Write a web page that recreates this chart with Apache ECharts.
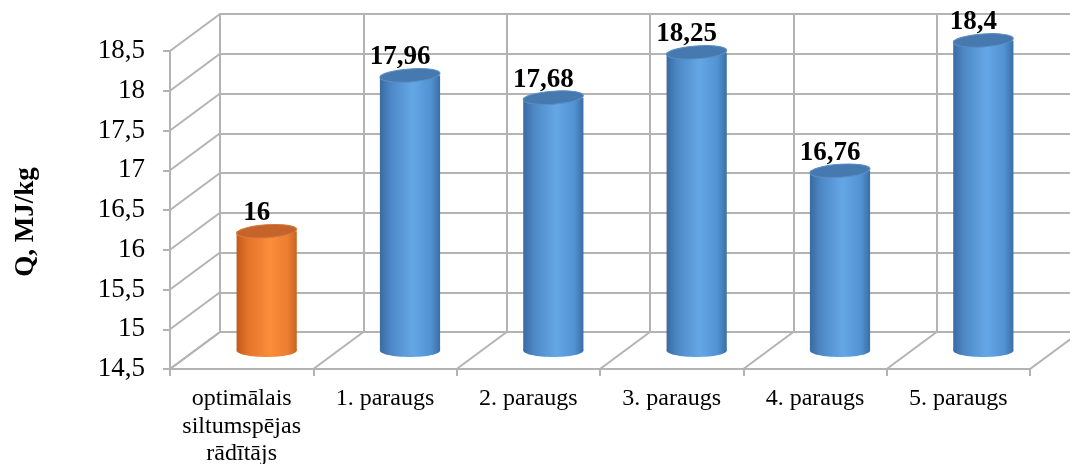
<!DOCTYPE html>
<html>
<head>
<meta charset="utf-8">
<script src="https://cdn.jsdelivr.net/npm/echarts@6/dist/echarts.min.js"></script>
<style>
  html, body { margin: 0; padding: 0; background: #fff; }
  #chart { width: 1070px; height: 464px; }
</style>
</head>
<body>
<div id="chart"></div>
<script>
const categories = ['optimālais\nsiltumspējas\nrādītājs', '1. paraugs', '2. paraugs', '3. paraugs', '4. paraugs', '5. paraugs'];
const values = [16, 17.96, 17.68, 18.25, 16.76, 18.4];
const yTicks = [14.5, 15, 15.5, 16, 16.5, 17, 17.5, 18, 18.5];
const catEdges = [0, 1, 2, 3, 4, 5, 6];

const Y_MIN = 14.5, Y_MAX = 18.5;
// depth offset of the back wall (px)
const DX = 50, DY = -37;
const GRID_COLOR = '#b3b3b3';
const FONT = "'Liberation Serif', 'Times New Roman', serif";

const chart = echarts.init(document.getElementById('chart'));

const orangeBody = new echarts.graphic.LinearGradient(0, 0, 1, 0, [
  { offset: 0, color: '#c25a1c' },
  { offset: 0.18, color: '#e37329' },
  { offset: 0.55, color: '#fb8d3b' },
  { offset: 0.85, color: '#ec7d31' },
  { offset: 1, color: '#c9631f' }
]);
const blueBody = new echarts.graphic.LinearGradient(0, 0, 1, 0, [
  { offset: 0, color: '#3a6aa0' },
  { offset: 0.18, color: '#4d88c6' },
  { offset: 0.55, color: '#65a7e6' },
  { offset: 0.85, color: '#5192d2' },
  { offset: 1, color: '#3b6ea6' }
]);

function fmt(v) {
  return String(v).replace('.', ',');
}

function line(x1, y1, x2, y2) {
  return {
    type: 'line',
    shape: { x1: x1, y1: y1, x2: x2, y2: y2 },
    style: { stroke: GRID_COLOR, lineWidth: 2 },
    silent: true
  };
}

const option = {
  animation: false,
  grid: [
    // front plane
    { left: 170, right: 40, top: 51, bottom: 95, outerBoundsMode: 'none' },
    // back wall
    { left: 170 + DX, right: 40 - DX, top: 51 + DY, bottom: 95 - DY, outerBoundsMode: 'none' }
  ],
  xAxis: [
    {
      type: 'category',
      gridIndex: 0,
      data: categories,
      axisLine: { lineStyle: { color: GRID_COLOR, width: 2 } },
      axisTick: { show: true, interval: 0, length: 7, lineStyle: { color: GRID_COLOR, width: 2 } },
      axisLabel: {
        interval: 0,
        margin: 16,
        color: '#000',
        fontFamily: FONT,
        fontSize: 24,
        lineHeight: 27.5
      },
      splitLine: { show: false }
    },
    {
      type: 'category',
      gridIndex: 1,
      data: categories,
      axisLine: { lineStyle: { color: GRID_COLOR, width: 2 } },
      axisTick: { show: false },
      axisLabel: { show: false },
      splitLine: { show: true, interval: 0, lineStyle: { color: GRID_COLOR, width: 2 } }
    }
  ],
  yAxis: [
    {
      type: 'value',
      gridIndex: 0,
      min: Y_MIN,
      max: Y_MAX,
      interval: 0.5,
      name: 'Q, MJ/kg',
      nameLocation: 'middle',
      nameRotate: 90,
      nameGap: 130,
      nameTextStyle: {
        color: '#000',
        fontFamily: FONT,
        fontSize: 27,
        fontWeight: 'bold',
        padding: [0, 24, 0, 0]
      },
      axisLine: { show: true, lineStyle: { color: GRID_COLOR, width: 2 } },
      axisTick: { show: true, length: 7, lineStyle: { color: GRID_COLOR, width: 2 } },
      axisLabel: {
        margin: 25,
        color: '#000',
        fontFamily: FONT,
        fontSize: 27,
        formatter: fmt
      },
      splitLine: { show: false }
    },
    {
      type: 'value',
      gridIndex: 1,
      min: Y_MIN,
      max: Y_MAX,
      interval: 0.5,
      axisLine: { show: true, lineStyle: { color: GRID_COLOR, width: 2 } },
      axisTick: { show: false },
      axisLabel: { show: false },
      splitLine: { show: true, lineStyle: { color: GRID_COLOR, width: 2 } }
    }
  ],
  series: [
    {
      // left wall diagonals
      type: 'custom',
      xAxisIndex: 0,
      yAxisIndex: 0,
      silent: true,
      z: 1,
      data: yTicks.map(v => [0, v]),
      renderItem: function (params, api) {
        const p = api.coord([0, api.value(1)]);
        const bw = api.size([1, 0])[0];
        const x0 = p[0] - bw / 2;
        return line(x0, p[1], x0 + DX, p[1] + DY);
      }
    },
    {
      // floor diagonals
      type: 'custom',
      xAxisIndex: 0,
      yAxisIndex: 0,
      silent: true,
      z: 1,
      data: catEdges.map(k => [k, Y_MIN]),
      renderItem: function (params, api) {
        const base = api.coord([0, Y_MIN]);
        const bw = api.size([1, 0])[0];
        const x0 = base[0] - bw / 2 + api.value(0) * bw;
        return line(x0, base[1], x0 + DX, base[1] + DY);
      }
    },
    {
      // cylinders
      type: 'custom',
      xAxisIndex: 0,
      yAxisIndex: 0,
      z: 3,
      data: values.map((v, i) => [i, v]),
      renderItem: function (params, api) {
        const i = api.value(0);
        const v = api.value(1);
        const top = api.coord([i, v]);
        const base = api.coord([i, Y_MIN]);
        const bw = api.size([1, 0])[0];
        const cx = top[0] + DX / 2;
        const topY = top[1] + DY / 2;
        const botY = base[1] + DY / 2;
        const rx = bw * 0.21;
        const ry = 6.5;
        const isRef = params.dataIndex === 0;
        const body = isRef ? orangeBody : blueBody;
        const cap = isRef ? '#c4632a' : '#4679af';
        const capEdge = isRef ? '#d97a3a' : '#5b8fc4';
        return {
          type: 'group',
          children: [
            {
              type: 'ellipse',
              shape: { cx: cx, cy: botY, rx: rx, ry: ry },
              style: { fill: body }
            },
            {
              type: 'rect',
              shape: { x: cx - rx, y: topY, width: rx * 2, height: botY - topY },
              style: { fill: body }
            },
            {
              type: 'ellipse',
              x: cx,
              y: topY,
              rotation: 0.07,
              shape: { cx: 0, cy: 0, rx: rx, ry: ry },
              style: { fill: cap, stroke: capEdge, lineWidth: 1 }
            },
            {
              type: 'text',
              x: cx - 10,
              y: topY - 18,
              style: {
                text: fmt(v),
                fill: '#000',
                font: 'bold 27px ' + FONT,
                textAlign: 'center',
                textVerticalAlign: 'middle'
              }
            }
          ]
        };
      }
    }
  ]
};

chart.setOption(option);
</script>
</body>
</html>
